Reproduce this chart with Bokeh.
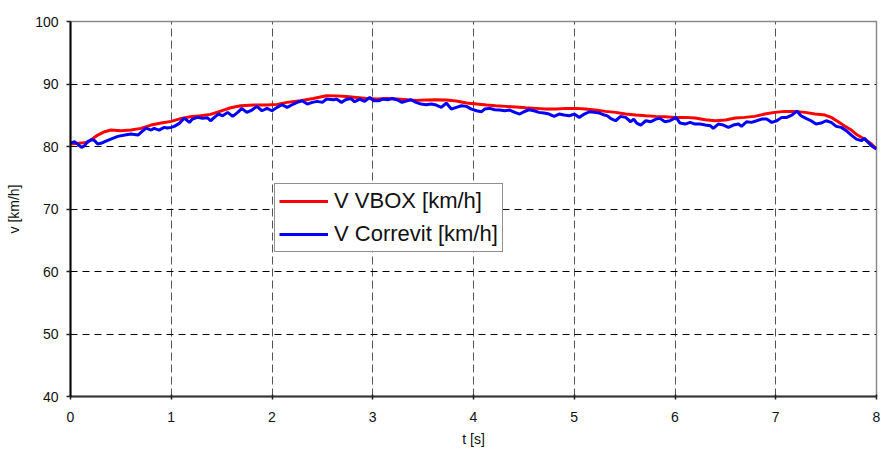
from bokeh.plotting import figure
from bokeh.models import Range1d, FixedTicker
from bokeh.embed import file_html
from bokeh.resources import INLINE

# ---- data ----
t_vbox = [0.00, 0.17, 0.27, 0.34, 0.40, 0.50, 0.60, 0.70, 0.80, 0.90, 1.00, 1.10, 1.19, 1.29,
          1.39, 1.49, 1.59, 1.69, 1.82, 1.95, 2.05, 2.15, 2.28, 2.41, 2.54, 2.64, 2.74, 2.84,
          2.94, 3.04, 3.14, 3.24, 3.34, 3.43, 3.53, 3.63, 3.73, 3.83, 3.93, 4.03, 4.13, 4.22,
          4.32, 4.42, 4.52, 4.62, 4.72, 4.82, 4.92, 5.02, 5.11, 5.21, 5.31, 5.41, 5.51, 5.61,
          5.71, 5.81, 5.90, 6.00, 6.10, 6.20, 6.30, 6.40, 6.50, 6.60, 6.69, 6.79, 6.89, 6.99,
          7.09, 7.19, 7.29, 7.39, 7.49, 7.55, 7.62, 7.68, 7.75, 7.81, 7.88, 7.95, 8.00]
v_vbox = [80.39, 80.66, 81.83, 82.37, 82.63, 82.53, 82.63, 82.90, 83.43, 83.75, 84.02, 84.50, 84.76, 84.92,
          85.14, 85.67, 86.20, 86.52, 86.63, 86.63, 86.74, 87.06, 87.32, 87.69, 88.12, 88.10, 88.01, 87.85,
          87.69, 87.59, 87.69, 87.59, 87.48, 87.38, 87.43, 87.48, 87.43, 87.27, 86.95, 86.79, 86.63, 86.52,
          86.42, 86.31, 86.20, 86.10, 85.99, 85.99, 86.10, 86.10, 85.99, 85.83, 85.62, 85.46, 85.19, 85.03,
          84.92, 84.82, 84.76, 84.66, 84.66, 84.55, 84.28, 84.12, 84.23, 84.55, 84.66, 84.82, 85.19, 85.46,
          85.62, 85.62, 85.46, 85.19, 85.03, 84.66, 83.96, 83.33, 82.63, 81.83, 81.19, 80.39, 79.59]

t_corr = [0.00, 0.04, 0.07, 0.11, 0.14, 0.17, 0.21, 0.24, 0.27, 0.31, 0.34, 0.40, 0.47, 0.54,
          0.60, 0.67, 0.70, 0.75, 0.80, 0.83, 0.88, 0.93, 0.96, 1.00, 1.03, 1.08, 1.13, 1.18,
          1.21, 1.26, 1.31, 1.36, 1.39, 1.44, 1.47, 1.51, 1.56, 1.61, 1.66, 1.70, 1.75, 1.80,
          1.85, 1.90, 1.95, 2.00, 2.05, 2.10, 2.15, 2.20, 2.25, 2.30, 2.35, 2.40, 2.45, 2.50,
          2.54, 2.61, 2.64, 2.69, 2.73, 2.78, 2.82, 2.87, 2.92, 2.97, 3.01, 3.06, 3.10, 3.15,
          3.19, 3.24, 3.29, 3.34, 3.38, 3.43, 3.48, 3.53, 3.58, 3.63, 3.68, 3.73, 3.78, 3.83,
          3.88, 3.93, 3.98, 4.03, 4.08, 4.11, 4.16, 4.21, 4.26, 4.31, 4.36, 4.41, 4.46, 4.50,
          4.55, 4.60, 4.65, 4.70, 4.75, 4.80, 4.85, 4.90, 4.95, 5.00, 5.05, 5.10, 5.15, 5.20,
          5.25, 5.30, 5.33, 5.36, 5.41, 5.46, 5.51, 5.56, 5.59, 5.62, 5.66, 5.71, 5.76, 5.81,
          5.85, 5.90, 5.95, 6.01, 6.05, 6.10, 6.15, 6.20, 6.25, 6.30, 6.35, 6.38, 6.43, 6.48,
          6.53, 6.58, 6.63, 6.66, 6.71, 6.76, 6.81, 6.86, 6.91, 6.96, 7.01, 7.06, 7.11, 7.16,
          7.21, 7.25, 7.30, 7.35, 7.40, 7.45, 7.50, 7.55, 7.60, 7.65, 7.70, 7.75, 7.80, 7.85,
          7.88, 7.91, 7.95, 8.00]
v_corr = [80.55, 80.77, 80.39, 79.86, 80.13, 80.77, 81.09, 80.93, 80.39, 80.55, 80.77, 81.19, 81.62, 81.83,
          81.99, 81.83, 82.26, 82.95, 82.63, 82.90, 82.63, 83.06, 82.95, 83.06, 83.22, 83.70, 84.55, 83.86,
          84.39, 84.66, 84.50, 84.60, 84.12, 84.82, 85.19, 84.92, 85.46, 84.82, 85.46, 86.10, 85.46, 85.83,
          86.42, 85.72, 86.10, 85.72, 86.26, 86.68, 86.26, 86.68, 87.06, 87.32, 86.79, 87.06, 87.22, 87.06,
          87.59, 87.48, 87.59, 87.06, 87.48, 87.69, 87.16, 87.59, 87.22, 87.85, 87.32, 87.32, 87.59, 87.48,
          87.69, 87.48, 87.06, 87.32, 87.48, 87.06, 86.79, 86.68, 86.79, 86.63, 86.26, 86.95, 85.99, 86.26,
          86.52, 86.42, 85.99, 85.72, 85.56, 85.99, 86.10, 85.88, 85.83, 85.72, 85.83, 85.46, 85.19, 85.56,
          85.88, 85.72, 85.46, 85.35, 85.19, 84.82, 85.19, 85.03, 84.92, 85.19, 84.66, 85.19, 85.56, 85.46,
          85.35, 85.03, 84.90, 84.50, 84.12, 84.82, 84.66, 83.96, 84.39, 83.75, 83.43, 84.12, 83.96, 84.39,
          84.50, 83.96, 84.12, 84.66, 83.75, 83.59, 83.86, 83.59, 83.59, 83.43, 83.33, 82.90, 83.59, 83.43,
          83.06, 83.43, 83.59, 83.22, 83.96, 83.86, 84.12, 84.39, 84.39, 83.86, 84.12, 84.66, 84.66, 85.03,
          85.67, 84.92, 84.50, 84.12, 83.59, 83.75, 84.12, 83.86, 83.22, 83.06, 82.53, 81.83, 81.19, 80.93,
          81.30, 80.77, 80.13, 79.59]

x_ticks = [0, 1, 2, 3, 4, 5, 6, 7, 8]
y_ticks = [40, 50, 60, 70, 80, 90, 100]
label_vbox = "V VBOX [km/h]"
label_corr = "V Correvit [km/h]"
x_title = "t [s]"
y_title = "v [km/h]"

FONT = "Liberation Sans"

p = figure(width=881, height=452, output_backend="svg", toolbar_location=None,
           x_range=Range1d(0, 8), y_range=Range1d(40, 100),
           min_border_left=70, min_border_right=5, min_border_top=21, min_border_bottom=56)
p.background_fill_color = "white"
p.border_fill_color = "white"
p.outline_line_color = "#8a8a8a"
p.outline_line_width = 1.5

p.line(t_vbox, v_vbox, line_color="#ff0000", line_width=3, legend_label=label_vbox)
p.line(t_corr, v_corr, line_color="#0000ff", line_width=3, legend_label=label_corr)

# axes
p.xaxis.ticker = FixedTicker(ticks=x_ticks)
p.yaxis.ticker = FixedTicker(ticks=y_ticks)
for ax in (p.xaxis[0], p.yaxis[0]):
    ax.minor_tick_line_color = None
    ax.major_label_text_font = FONT
    ax.major_label_text_font_size = "14px"
    ax.major_label_text_color = "#111111"
    ax.major_tick_line_color = "#222222"
    ax.major_tick_line_width = 1.5
    ax.axis_label_text_font = FONT
    ax.axis_label_text_font_size = "14px"
    ax.axis_label_text_font_style = "normal"
    ax.axis_label_text_color = "#111111"
p.yaxis.axis_line_color = "#000000"
p.yaxis.axis_line_width = 2
p.yaxis.major_tick_in = 0
p.yaxis.major_tick_out = 4
p.yaxis.major_label_standoff = 8
p.yaxis.axis_label = y_title
p.yaxis.axis_label_standoff = 10

p.xaxis.axis_line_color = "#333333"
p.xaxis.axis_line_width = 2
p.xaxis.major_tick_in = 2
p.xaxis.major_tick_out = 3
p.xaxis.major_label_standoff = 12
p.xaxis.axis_label = x_title
p.xaxis.axis_label_standoff = 6

# grid
p.xgrid.grid_line_color = "#555555"
p.xgrid.grid_line_dash = "8 4"
p.xgrid.grid_line_width = 1
p.ygrid.grid_line_color = "#000000"
p.ygrid.grid_line_dash = "7 5"
p.ygrid.grid_line_width = 1

# legend
lg = p.legend[0]
lg.location = (204, 144)
lg.margin = 0
lg.padding = 4
lg.spacing = 7
lg.glyph_width = 49
lg.glyph_height = 24
lg.label_height = 24
lg.label_standoff = 6
lg.label_text_font = FONT
lg.label_text_font_size = "22px"
lg.label_text_color = "#111111"
lg.border_line_color = "#222222"
lg.border_line_width = 1.5
lg.background_fill_color = "white"
lg.background_fill_alpha = 1

open("out.html", "w").write(file_html(p, INLINE))
